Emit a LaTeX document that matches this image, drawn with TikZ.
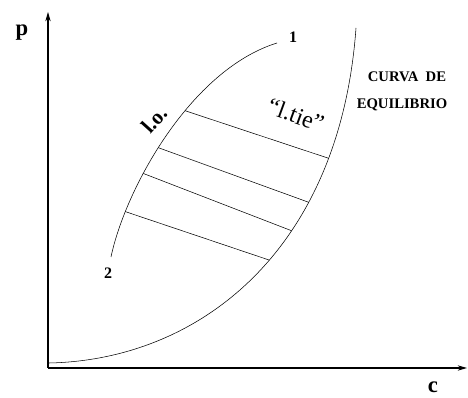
\documentclass[tikz,border=0pt]{standalone}
\usepackage{fontspec}
\setmainfont{Liberation Serif}
\usetikzlibrary{arrows.meta}

\tikzset{
  axis/.style={thick, -{Stealth[length=7pt,width=4pt]}},
  curve/.style={thin},
  tieline/.style={thin},
  axlabel/.style={font=\bfseries\fontsize{17}{17}\selectfont},
  endlabel/.style={font=\bfseries\fontsize{12}{12}\selectfont},
  curvelabel/.style={font=\bfseries\fontsize{11}{13}\selectfont}
}

\begin{document}
\begin{tikzpicture}[x=0.75pt, y=-0.75pt]
        \useasboundingbox (0,0) rectangle (468,398);

        % Axes
        \coordinate (origin) at (48,368);
        \coordinate (ptop) at (48,12);
        \coordinate (cend) at (467,368);
        \draw[axis] (origin) -- (ptop);
        \draw[axis] (origin) -- (cend);
        \node[axlabel] (plab) at (22,33) {p};
        \node[axlabel] (clab) at (433,387) {c};

        % Equilibrium curve
        \draw[curve] (49,363) .. controls (200,360) and (340,250) .. (356,28)
          coordinate[pos=0.55] (rd) coordinate[pos=0.625] (rc)
          coordinate[pos=0.69] (rb) coordinate[pos=0.78] (ra);

        % Liquid curve (l.o.)
        \draw[curve] (111,257) .. controls (125,190) and (190,70) .. (277,43)
          coordinate[pos=0.2] (ld) coordinate[pos=0.35] (lc)
          coordinate[pos=0.45] (lb) coordinate[pos=0.6] (la);

        % Tie lines
        \draw[tieline] (la) -- (ra);
        \draw[tieline] (lb) -- (rb);
        \draw[tieline] (lc) -- (rc);
        \draw[tieline] (ld) -- (rd);

        % Labels
        \node[endlabel] (one) at (293,37) {1};
        \node[endlabel] (two) at (108,273) {2};
        \node[font=\bfseries\fontsize{16}{16}\selectfont, rotate=48] (lo) at (154,120) {l.o.};
        \node[font=\fontsize{18}{18}\selectfont, rotate=-20] (ltie) at (296,115) {\textquotedblleft l.tie\textquotedblright};
        \node[curvelabel] (eq1) at (407,77) {CURVA\ \ DE};
        \node[curvelabel] (eq2) at (402,105) {EQUILIBRIO};
    \end{tikzpicture}
\end{document}
